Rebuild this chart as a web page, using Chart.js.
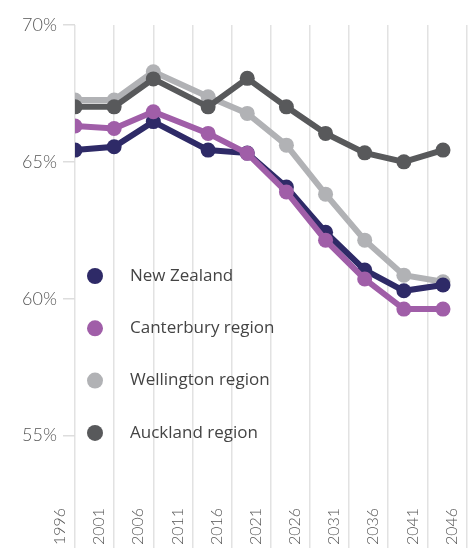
<!DOCTYPE html>
<html>
<head>
<meta charset="utf-8">
<script src="https://cdn.jsdelivr.net/npm/chart.js@4.4.1/dist/chart.umd.min.js"></script>
<style>
html, body { margin: 0; padding: 0; background: #fff; }
#wrap { width: 474px; height: 548px; position: relative; }
</style>
</head>
<body>
<div id="wrap"><canvas id="chart"></canvas></div>
<script>
// census / projection years (x is a linear year scale)
const years = [1996, 2001, 2006, 2013, 2018, 2023, 2028, 2033, 2038, 2043];
const seriesNames = ['New Zealand', 'Canterbury region', 'Wellington region', 'Auckland region'];
const newZealand = [65.43, 65.55, 66.47, 65.43, 65.32, 64.08, 62.43, 61.05, 60.29, 60.5];
const canterbury = [66.31, 66.22, 66.83, 66.04, 65.31, 63.9, 62.14, 60.72, 59.62, 59.62];
const wellington = [67.26, 67.26, 68.29, 67.38, 66.77, 65.61, 63.82, 62.14, 60.86, 60.62];
const auckland = [67.01, 67.01, 68.03, 67.01, 68.05, 67.01, 66.04, 65.33, 65.0, 65.43];
const yTicks = [55, 60, 65, 70];

const colors = ['#2e2a67', '#a05ea8', '#b1b2b5', '#58595b'];

function toPoints(values) {
    return values.map((v, i) => ({ x: years[i], y: v }));
}

function makeDataset(name, values, color, order) {
    return {
        label: name,
        data: toPoints(values),
        borderColor: color,
        backgroundColor: color,
        pointBackgroundColor: color,
        pointBorderWidth: 0,
        pointRadius: 7.5,
        borderWidth: 6,
        tension: 0,
        fill: false,
        order: order,
    };
}

// legend drawn inside the plot, stacked on the left
const insideLegend = {
    id: 'insideLegend',
    afterDraw(chart, args, opts) {
        const ctx = chart.ctx;
        ctx.save();
        ctx.font = opts.font;
        ctx.textBaseline = 'middle';
        chart.data.datasets.forEach((ds, i) => {
            const y = opts.y + i * opts.spacing;
            ctx.beginPath();
            ctx.fillStyle = ds.borderColor;
            ctx.arc(opts.x, y, opts.radius, 0, Math.PI * 2);
            ctx.fill();
            ctx.fillStyle = opts.color;
            ctx.fillText(ds.label, opts.textX, y);
        });
        ctx.restore();
    }
};

const config = {
    type: 'line',
    data: {
        datasets: [
            makeDataset(seriesNames[0], newZealand, colors[0], 1),
            makeDataset(seriesNames[1], canterbury, colors[1], 0),
            makeDataset(seriesNames[2], wellington, colors[2], 3),
            makeDataset(seriesNames[3], auckland, colors[3], 2),
        ]
    },
    options: {
        responsive: true,
        maintainAspectRatio: false,
        animation: false,
        layout: {
            padding: { top: 25, right: 7, left: 0, bottom: 0 }
        },
        scales: {
            x: {
                type: 'linear',
                min: 1996,
                max: 2046,
                border: { display: false },
                grid: {
                    color: '#e2e2e2',
                    lineWidth: 1.5,
                    drawTicks: true,
                    tickLength: 44,
                },
                ticks: {
                    stepSize: 5,
                    autoSkip: false,
                    minRotation: 90,
                    maxRotation: 90,
                    padding: -40,
                    labelOffset: -15,
                    color: '#555',
                    font: { family: 'Lato', size: 16, weight: '300' },
                    callback: (v) => String(v),
                },
                afterFit(scale) {
                    scale.paddingLeft = 0;
                    scale.paddingRight = 0;
                    scale.height = 44;
                },
            },
            y: {
                min: 52.5,
                max: 70,
                border: { display: false },
                grid: {
                    drawOnChartArea: false,
                    drawTicks: true,
                    tickLength: 12,
                    color: '#dddddd',
                    lineWidth: 1.5,
                },
                ticks: {
                    padding: 6,
                    color: '#555',
                    font: { family: 'Lato', size: 18, weight: '300' },
                    callback: (v) => v + '%',
                },
                afterBuildTicks(scale) {
                    scale.ticks = yTicks.map(v => ({ value: v }));
                },
                afterFit(scale) {
                    scale.width = 75;
                },
            }
        },
        plugins: {
            legend: { display: false },
            tooltip: { enabled: false },
            insideLegend: {
                x: 95,
                y: 276,
                spacing: 52.3,
                radius: 8,
                textX: 130,
                font: '17px "Open Sans"',
                color: '#444',
            },
        }
    },
    plugins: [insideLegend]
};

let chart = new Chart(document.getElementById('chart'), config);
</script>
</body>
</html>
